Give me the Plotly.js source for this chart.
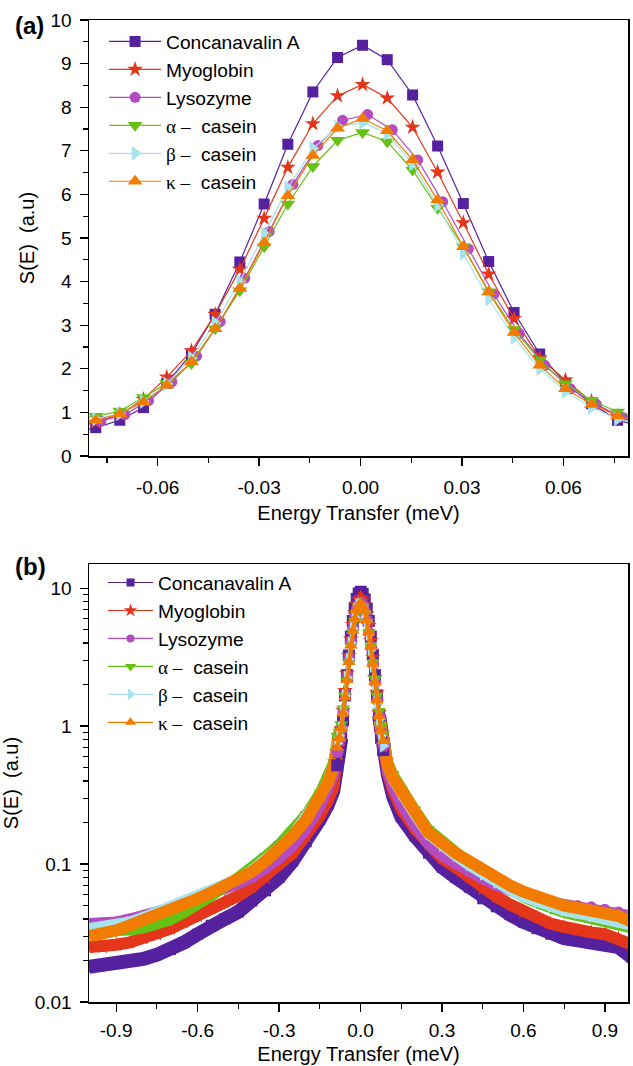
<!DOCTYPE html>
<html><head><meta charset="utf-8">
<script src="https://cdn.plot.ly/plotly-3.0.1.min.js"></script>
<style>html,body{margin:0;padding:0;background:#fff}#chart{width:633px;height:1066px}</style>
</head><body><div id="chart"></div>
<script>
// ---------- series definitions ----------
const seriesNames = ['Concanavalin A','Myoglobin','Lysozyme',
  '<span style="font-family:Liberation Serif">\u03b1 \u2013</span>\u00a0 casein',
  '<span style="font-family:Liberation Serif">\u03b2 \u2013</span>\u00a0 casein',
  '<span style="font-family:Liberation Serif">\u03ba \u2013</span>\u00a0 casein'];
const seriesColors = ['#55219f','#e4361b','#b44bc0','#65c215','#a6e3ea','#f27c00'];
const seriesSymbols = ['square','star','circle','triangle-down','triangle-right','triangle-up'];

// ---------- panel (a): central region, meV ----------
const xCenter = [-0.0857,-0.0783,-0.0712,-0.0642,-0.0573,-0.0500,-0.0430,-0.0357,-0.0285,-0.0215,-0.0141,-0.0068,
                 0.0006,0.0079,0.0154,0.0228,0.0304,0.0379,0.0454,0.0530,0.0606,0.0683,0.0760,0.0835];
const xCenterLys = [-0.0842,-0.0768,-0.0697,-0.0627,-0.0558,-0.0485,-0.0415,-0.0342,-0.0270,-0.0200,-0.0126,-0.0053,
                 0.0021,0.0094,0.0169,0.0243,0.0319,0.0394,0.0469,0.0545,0.0621,0.0698,0.0775,0.0850];
const conA_c = [0.52,0.65,0.82,1.11,1.67,2.34,3.25,4.45,5.78,7.15,8.35,9.14,9.42,9.09,8.28,7.11,5.79,4.46,3.29,2.34,1.67,1.20,0.82,0.67];
const myo_c  = [0.65,0.78,0.95,1.30,1.81,2.41,3.25,4.28,5.45,6.62,7.62,8.26,8.52,8.21,7.54,6.51,5.35,4.17,3.15,2.25,1.74,1.25,0.90,0.72];
const lys_c  = [0.65,0.80,0.95,1.27,1.70,2.29,3.08,4.08,5.15,6.23,7.12,7.70,7.83,7.48,6.79,5.83,4.75,3.71,2.81,2.08,1.54,1.18,0.89,0.72];
const alpha_c= [0.85,0.91,1.03,1.34,1.67,2.12,2.92,3.79,4.80,5.78,6.64,7.24,7.42,7.21,6.56,5.68,4.80,3.77,2.90,2.20,1.66,1.28,1.01,0.88];
const beta_c = [0.75,0.85,0.97,1.25,1.65,2.25,3.05,4.00,5.10,6.15,7.05,7.55,7.65,7.40,6.70,5.75,4.65,3.60,2.72,2.00,1.48,1.12,0.85,0.72];
const kappa_c= [0.70,0.82,0.97,1.24,1.62,2.16,2.92,3.84,4.89,5.97,6.89,7.52,7.74,7.46,6.79,5.87,4.80,3.76,2.83,2.08,1.54,1.18,0.92,0.78];

// ---------- panel (b): wings ----------
const xTailL = [-1.0,-0.95,-0.9,-0.85,-0.8,-0.75,-0.7,-0.65,-0.6,-0.55,-0.5,-0.45,-0.4,-0.35,-0.3,-0.25,-0.2,-0.15,-0.12,-0.1];
const xTailR = [0.1,0.12,0.15,0.2,0.25,0.3,0.35,0.4,0.45,0.5,0.55,0.6,0.65,0.7,0.75,0.8,0.85,0.9,0.95,1.0];
const conA_L = [0.018,0.0185,0.019,0.020,0.0205,0.022,0.024,0.027,0.031,0.036,0.040,0.045,0.054,0.064,0.080,0.105,0.145,0.21,0.27,0.34];
const conA_R = [0.45,0.31,0.22,0.16,0.12,0.095,0.080,0.068,0.056,0.049,0.043,0.038,0.034,0.031,0.029,0.028,0.027,0.0265,0.025,0.021];
const myo_L  = [0.025,0.025,0.026,0.027,0.029,0.031,0.034,0.038,0.042,0.048,0.053,0.059,0.068,0.080,0.100,0.120,0.160,0.225,0.29,0.36];
const myo_R  = [0.46,0.34,0.25,0.18,0.14,0.11,0.095,0.080,0.066,0.058,0.051,0.045,0.041,0.037,0.035,0.033,0.032,0.031,0.029,0.026];
const lys_L  = [0.037,0.037,0.038,0.040,0.042,0.045,0.048,0.052,0.056,0.061,0.066,0.072,0.080,0.092,0.110,0.135,0.180,0.26,0.34,0.44];
const lys_R  = [0.46,0.36,0.27,0.19,0.14,0.115,0.100,0.088,0.078,0.070,0.064,0.060,0.056,0.053,0.051,0.050,0.049,0.047,0.045,0.042];
const alpha_L= [0.032,0.032,0.032,0.033,0.034,0.036,0.039,0.044,0.050,0.058,0.068,0.080,0.095,0.115,0.140,0.176,0.232,0.33,0.43,0.55];
const alpha_R= [0.56,0.45,0.35,0.25,0.18,0.148,0.122,0.103,0.088,0.075,0.065,0.057,0.052,0.047,0.044,0.042,0.040,0.038,0.036,0.034];
const beta_L = [0.034,0.035,0.036,0.038,0.041,0.045,0.048,0.052,0.057,0.063,0.070,0.078,0.090,0.107,0.130,0.162,0.215,0.305,0.40,0.51];
const beta_R = [0.51,0.41,0.32,0.23,0.165,0.135,0.115,0.098,0.084,0.073,0.065,0.058,0.053,0.049,0.046,0.044,0.042,0.040,0.038,0.036];
const kappa_L= [0.030,0.031,0.033,0.036,0.039,0.043,0.047,0.051,0.056,0.062,0.069,0.076,0.088,0.105,0.128,0.160,0.210,0.30,0.39,0.50];
const kappa_R= [0.52,0.42,0.33,0.24,0.17,0.14,0.12,0.105,0.090,0.078,0.070,0.063,0.058,0.054,0.050,0.048,0.046,0.044,0.042,0.038];

// ---------- tick labels ----------
const xaTickVals = [-0.06,-0.03,0,0.03,0.06];
const xaTickText = ['-0.06','-0.03','0.00','0.03','0.06'];
const xaMinor = [-0.075,-0.045,-0.015,0.015,0.045,0.075];
const yaTickVals = [0,1,2,3,4,5,6,7,8,9,10];
const yaMinor = [0.5,1.5,2.5,3.5,4.5,5.5,6.5,7.5,8.5,9.5];
const xbTickVals = [-0.9,-0.6,-0.3,0,0.3,0.6,0.9];
const xbTickText = ['-0.9','-0.6','-0.3','0.0','0.3','0.6','0.9'];
const xbMinor = [-0.75,-0.45,-0.15,0.15,0.45,0.75];
const ybTickVals = [0.01,0.1,1,10];
const ybTickText = ['0.01','0.1','1','10'];
const ybMinor = [0.02,0.03,0.04,0.05,0.06,0.07,0.08,0.09,0.2,0.3,0.4,0.5,0.6,0.7,0.8,0.9,2,3,4,5,6,7,8,9];

const centerY = [conA_c,myo_c,lys_c,alpha_c,beta_c,kappa_c];
const centerX = [xCenter,xCenter,xCenterLys,xCenter,xCenter,xCenter];
const tailsL = [conA_L,myo_L,lys_L,alpha_L,beta_L,kappa_L];
const tailsR = [conA_R,myo_R,lys_R,alpha_R,beta_R,kappa_R];
const sizesA = [11,12,11,13,13,13];
const sizesB = [8,10,8,10,10,10];
const bandWidths = [14,12,11,10,11,12];

const traces = [];
for (let i = 0; i < 6; i++) {
  traces.push({
    x: centerX[i], y: centerY[i], xaxis: 'x', yaxis: 'y', legend: 'legend',
    name: seriesNames[i], mode: 'lines+markers', cliponaxis: true,
    line: {color: seriesColors[i], width: 1.2},
    marker: {symbol: seriesSymbols[i], size: sizesA[i], color: seriesColors[i]}
  });
}
// panel b legend entries (thin, hidden beneath bands)
for (let i = 0; i < 6; i++) {
  traces.push({
    x: xTailL.concat(centerX[i], xTailR), y: tailsL[i].concat(centerY[i], tailsR[i]),
    xaxis: 'x2', yaxis: 'y2', legend: 'legend2',
    name: seriesNames[i], mode: 'lines+markers', cliponaxis: true,
    line: {color: seriesColors[i], width: 1.2},
    marker: {symbol: seriesSymbols[i], size: sizesB[i], color: seriesColors[i]}
  });
}
// panel b dense wing bands
for (let i = 0; i < 6; i++) {
  const cx = centerX[i], cy = centerY[i];
  traces.push({
    x: xTailL.concat(cx.slice(0,3), [null], cx.slice(-3), xTailR),
    y: tailsL[i].concat(cy.slice(0,3), [null], cy.slice(-3), tailsR[i]),
    xaxis: 'x2', yaxis: 'y2', showlegend: false, hoverinfo: 'skip',
    mode: 'lines+markers', cliponaxis: true, connectgaps: false,
    line: {color: seriesColors[i], width: bandWidths[i]},
    marker: {symbol: seriesSymbols[i], size: 11, color: seriesColors[i]}
  });
}
// panel b central peak points
for (let i = 0; i < 6; i++) {
  traces.push({
    x: centerX[i], y: centerY[i],
    xaxis: 'x2', yaxis: 'y2', showlegend: false, hoverinfo: 'skip',
    mode: 'lines+markers', cliponaxis: true,
    line: {color: seriesColors[i], width: 4},
    marker: {symbol: seriesSymbols[i], size: 12, color: seriesColors[i]}
  });
}

const FONT = 'Liberation Sans, Arial, sans-serif';
function axisBase() {
  return {
    showline: true, linecolor: '#000', linewidth: 1.5, mirror: true,
    ticks: 'outside', ticklen: 8, tickwidth: 1.3, tickcolor: '#000',
    showgrid: false, zeroline: false,
    tickfont: {family: FONT, size: 19, color: '#000'}
  };
}
const xa = Object.assign(axisBase(), {
  domain: [0,1], anchor: 'y', range: [-0.0803, 0.0791],
  tickmode: 'array', tickvals: xaTickVals, ticktext: xaTickText, ticklabelstandoff: 6,
  minor: {tickmode: 'array', tickvals: xaMinor, ticks: 'outside', ticklen: 5, tickwidth: 1.2, tickcolor: '#000'},
  title: {text: 'Energy Transfer (meV)', font: {family: FONT, size: 20, color: '#000'}, standoff: 8}
});
const ya = Object.assign(axisBase(), {
  domain: [0.556, 1], anchor: 'x', range: [0, 10],
  tickmode: 'array', tickvals: yaTickVals, ticklabelstandoff: 4,
  minor: {tickmode: 'array', tickvals: yaMinor, ticks: 'outside', ticklen: 5, tickwidth: 1.2, tickcolor: '#000'},
  title: {text: 'S(E)\u00a0\u00a0(a.u)', font: {family: FONT, size: 20, color: '#000'}, standoff: 10}
});
const xb = Object.assign(axisBase(), {
  domain: [0,1], anchor: 'y2', range: [-1.0, 0.985],
  tickmode: 'array', tickvals: xbTickVals, ticktext: xbTickText, ticklabelstandoff: 3,
  minor: {tickmode: 'array', tickvals: xbMinor, ticks: 'outside', ticklen: 5, tickwidth: 1.2, tickcolor: '#000'},
  title: {text: 'Energy Transfer (meV)', font: {family: FONT, size: 20, color: '#000'}, standoff: 6}
});
const yb = Object.assign(axisBase(), {
  domain: [0, 0.446], anchor: 'x2', type: 'log', range: [-2, 1.175],
  tickmode: 'array', tickvals: ybTickVals, ticktext: ybTickText, ticklabelstandoff: 4,
  minor: {tickmode: 'array', tickvals: ybMinor, ticks: 'outside', ticklen: 5, tickwidth: 1.2, tickcolor: '#000'},
  title: {text: 'S(E)\u00a0\u00a0(a.u)', font: {family: FONT, size: 20, color: '#000'}, standoff: 12}
});

const layout = {
  width: 633, height: 1066,
  margin: {l: 89, r: 5, t: 20, b: 64, autoexpand: false},
  paper_bgcolor: '#fff', plot_bgcolor: '#fff',
  font: {family: FONT, size: 19, color: '#000'},
  xaxis: xa, yaxis: ya, xaxis2: xb, yaxis2: yb,
  legend: {x: 0.028, y: 0.9975, xanchor: 'left', yanchor: 'top', bgcolor: 'rgba(0,0,0,0)',
           font: {family: FONT, size: 19.2, color: '#000'}, itemwidth: 52, tracegroupgap: 0},
  legend2: {x: 0.026, y: 0.4465, xanchor: 'left', yanchor: 'top', bgcolor: 'rgba(0,0,0,0)',
           font: {family: FONT, size: 19.2, color: '#000'}, itemwidth: 45, tracegroupgap: 0},
  annotations: [
    {text: '<b>(a)</b>', xref: 'paper', yref: 'paper', x: -0.141, y: 0.9944, xanchor: 'left', yanchor: 'middle',
     showarrow: false, font: {family: FONT, size: 24, color: '#000'}},
    {text: '<b>(b)</b>', xref: 'paper', yref: 'paper', x: -0.141, y: 0.443, xanchor: 'left', yanchor: 'middle',
     showarrow: false, font: {family: FONT, size: 24, color: '#000'}}
  ],
  showlegend: true
};
Plotly.newPlot('chart', traces, layout, {staticPlot: true, displayModeBar: false});
</script></body></html>
